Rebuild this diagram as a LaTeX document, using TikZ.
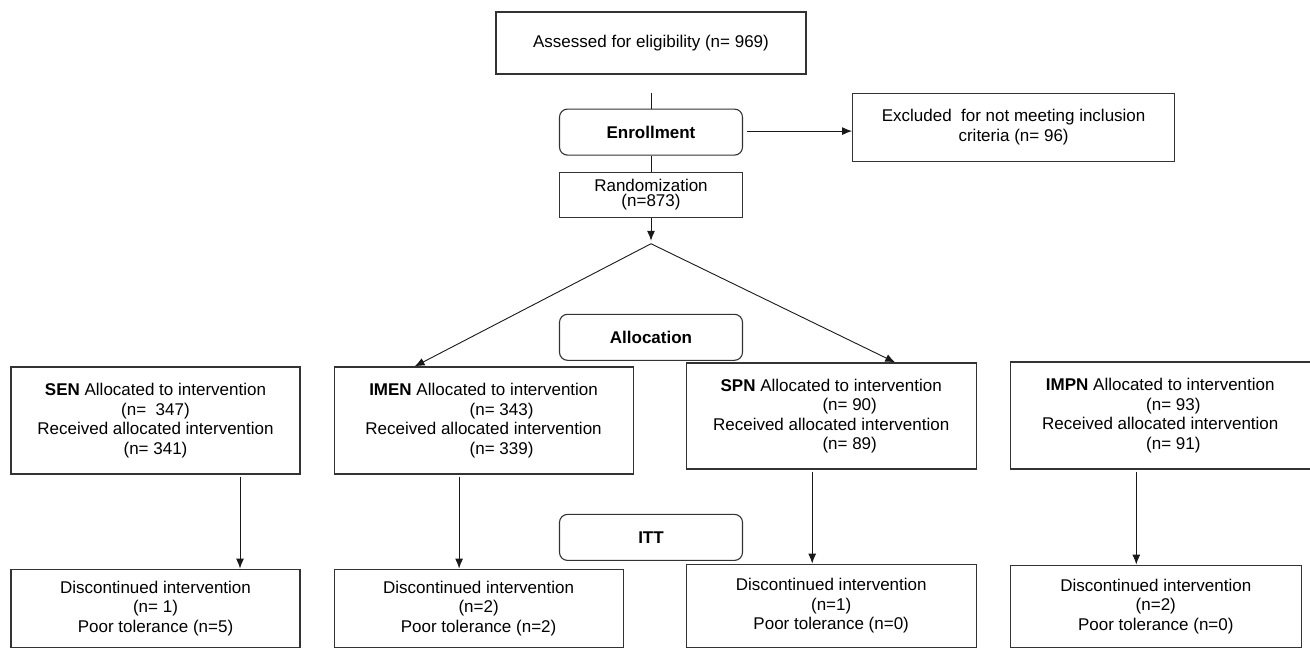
\documentclass[tikz,border=0pt]{standalone}
\usepackage{fontspec}
\setmainfont{Liberation Sans}
\usepackage{tikz}
\usetikzlibrary{shapes, positioning, calc, arrows.meta}
\colorlet{framegray}{black!80}

\begin{document}
\begin{tikzpicture}[x=1pt, y=-1pt,
    font=\fontsize{17}{19.5}\selectfont,
    box/.style n args={2}{rectangle, 
      draw=framegray, 
      line width=1.1pt, 
      align=center, 
      inner sep=0pt, 
      minimum width=#1, 
      minimum height=#2},
    stage/.style={rectangle, 
      rounded corners=8pt, 
      draw=framegray, 
      line width=1.1pt, 
      minimum width=183pt, 
      minimum height=46pt, 
      font=\fontsize{17}{19.5}\selectfont\bfseries},
    flow/.style={-{Latex[length=10pt,width=8pt]}, line width=0.9pt, black!90}]

  \useasboundingbox (0,0) rectangle (1310,648);

% SCREENING

  \node [box={310pt}{62pt}] (assessed) at (651,43) {Assessed for eligibility (n= 969)};

  \node [stage, below=34pt of assessed] (enroll) {Enrollment};

  \node [box={322pt}{68pt}, 
    right=109pt of enroll, 
    yshift=5pt] (exclude) {Excluded~ for not meeting inclusion\\criteria (n= 96)
  };

  \node [box={183pt}{45pt}, 
    below=16pt of enroll] (random) {Randomization\\[-5pt](n=873)
  };

  \coordinate [below=18pt of assessed] (gap);
  \coordinate [below=26pt of random] (split);

  \node [stage, below=96pt of random] (alloc) {Allocation};
  \node [stage, below=153pt of alloc] (itt) {ITT};

% ARMS

  \node [box={289pt}{107pt}] (sen) at (155.5,420.5) {
    \textbf{SEN} Allocated to intervention\\(n=~ 347)\\
    Received allocated intervention\\(n= 341)
  };

  \node [box={299pt}{107pt}, 
    right=33pt of sen] (imen) {
    \textbf{IMEN} Allocated to intervention\\\hspace*{36pt}(n= 343)\\
    Received allocated intervention\\\hspace*{36pt}(n= 339)
  };

  \node [box={290pt}{106pt}, 
    right=52pt of imen.north east, 
    anchor=north west, 
    yshift=4pt] (spn) {
    \textbf{SPN} Allocated to intervention\\\hspace*{37pt}(n= 90)\\
    Received allocated intervention\\\hspace*{37pt}(n= 89)
  };

  \node [box={300pt}{107pt}, 
    right=33pt of spn.north east, 
    anchor=north west, 
    yshift=1pt] (impn) {
    \textbf{IMPN} Allocated to intervention\\\hspace*{26pt}(n= 93)\\
    Received allocated intervention\\\hspace*{26pt}(n= 91)
  };

% OUTCOMES

  \node [box={289pt}{78pt}, below=94pt of sen] (sendisc) {
    Discontinued intervention\\(n= 1)\\Poor tolerance (n=5)
  };

  \node [box={289pt}{78pt}, 
    below=94pt of imen.south west, 
    anchor=north west] (imendisc) {
    Discontinued intervention\\(n=2)\\Poor tolerance (n=2)
  };

  \node [box={290pt}{83pt}, below=94pt of spn] (spndisc) {
    Discontinued intervention\\(n=1)\\Poor tolerance (n=0)
  };

  \node [box={291pt}{82pt}, 
    below=95pt of impn.south west, 
    anchor=north west] (impndisc) {
    Discontinued intervention\\(n=2)\\Poor tolerance (n=0)
  };

  % CONNECTORS

  \draw [line width=0.9pt, black!90] (gap) -- (enroll);
  \draw [line width=0.9pt, black!90] (enroll) -- (random);
  \draw [flow, shorten <=4pt] ([yshift=1pt]enroll.east) -- ([yshift=1pt]enroll.east -| exclude.west);
  \draw [flow, shorten >=3pt] (random) -- (split);

  \draw [flow] (split) -- ($(imen.north west)!0.27!(imen.north east)$);
  \draw [flow] (split) -- ($(spn.north west)!0.72!(spn.north east)$);

  \draw [flow, shorten <=2pt] ([xshift=84.5pt]sen.south) -- ([xshift=84.5pt]sendisc.north);
  \draw [flow, shorten <=2pt] ([xshift=-24.5pt]imen.south) -- ([xshift=-19.5pt]imendisc.north);
  \draw [flow, shorten <=2pt] ([xshift=-19pt]spn.south) -- ([xshift=-19pt]spndisc.north);
  \draw [flow, shorten <=2pt] ([xshift=-24pt]impn.south) -- ([xshift=-19.5pt]impndisc.north);

\end{tikzpicture}
\end{document}
